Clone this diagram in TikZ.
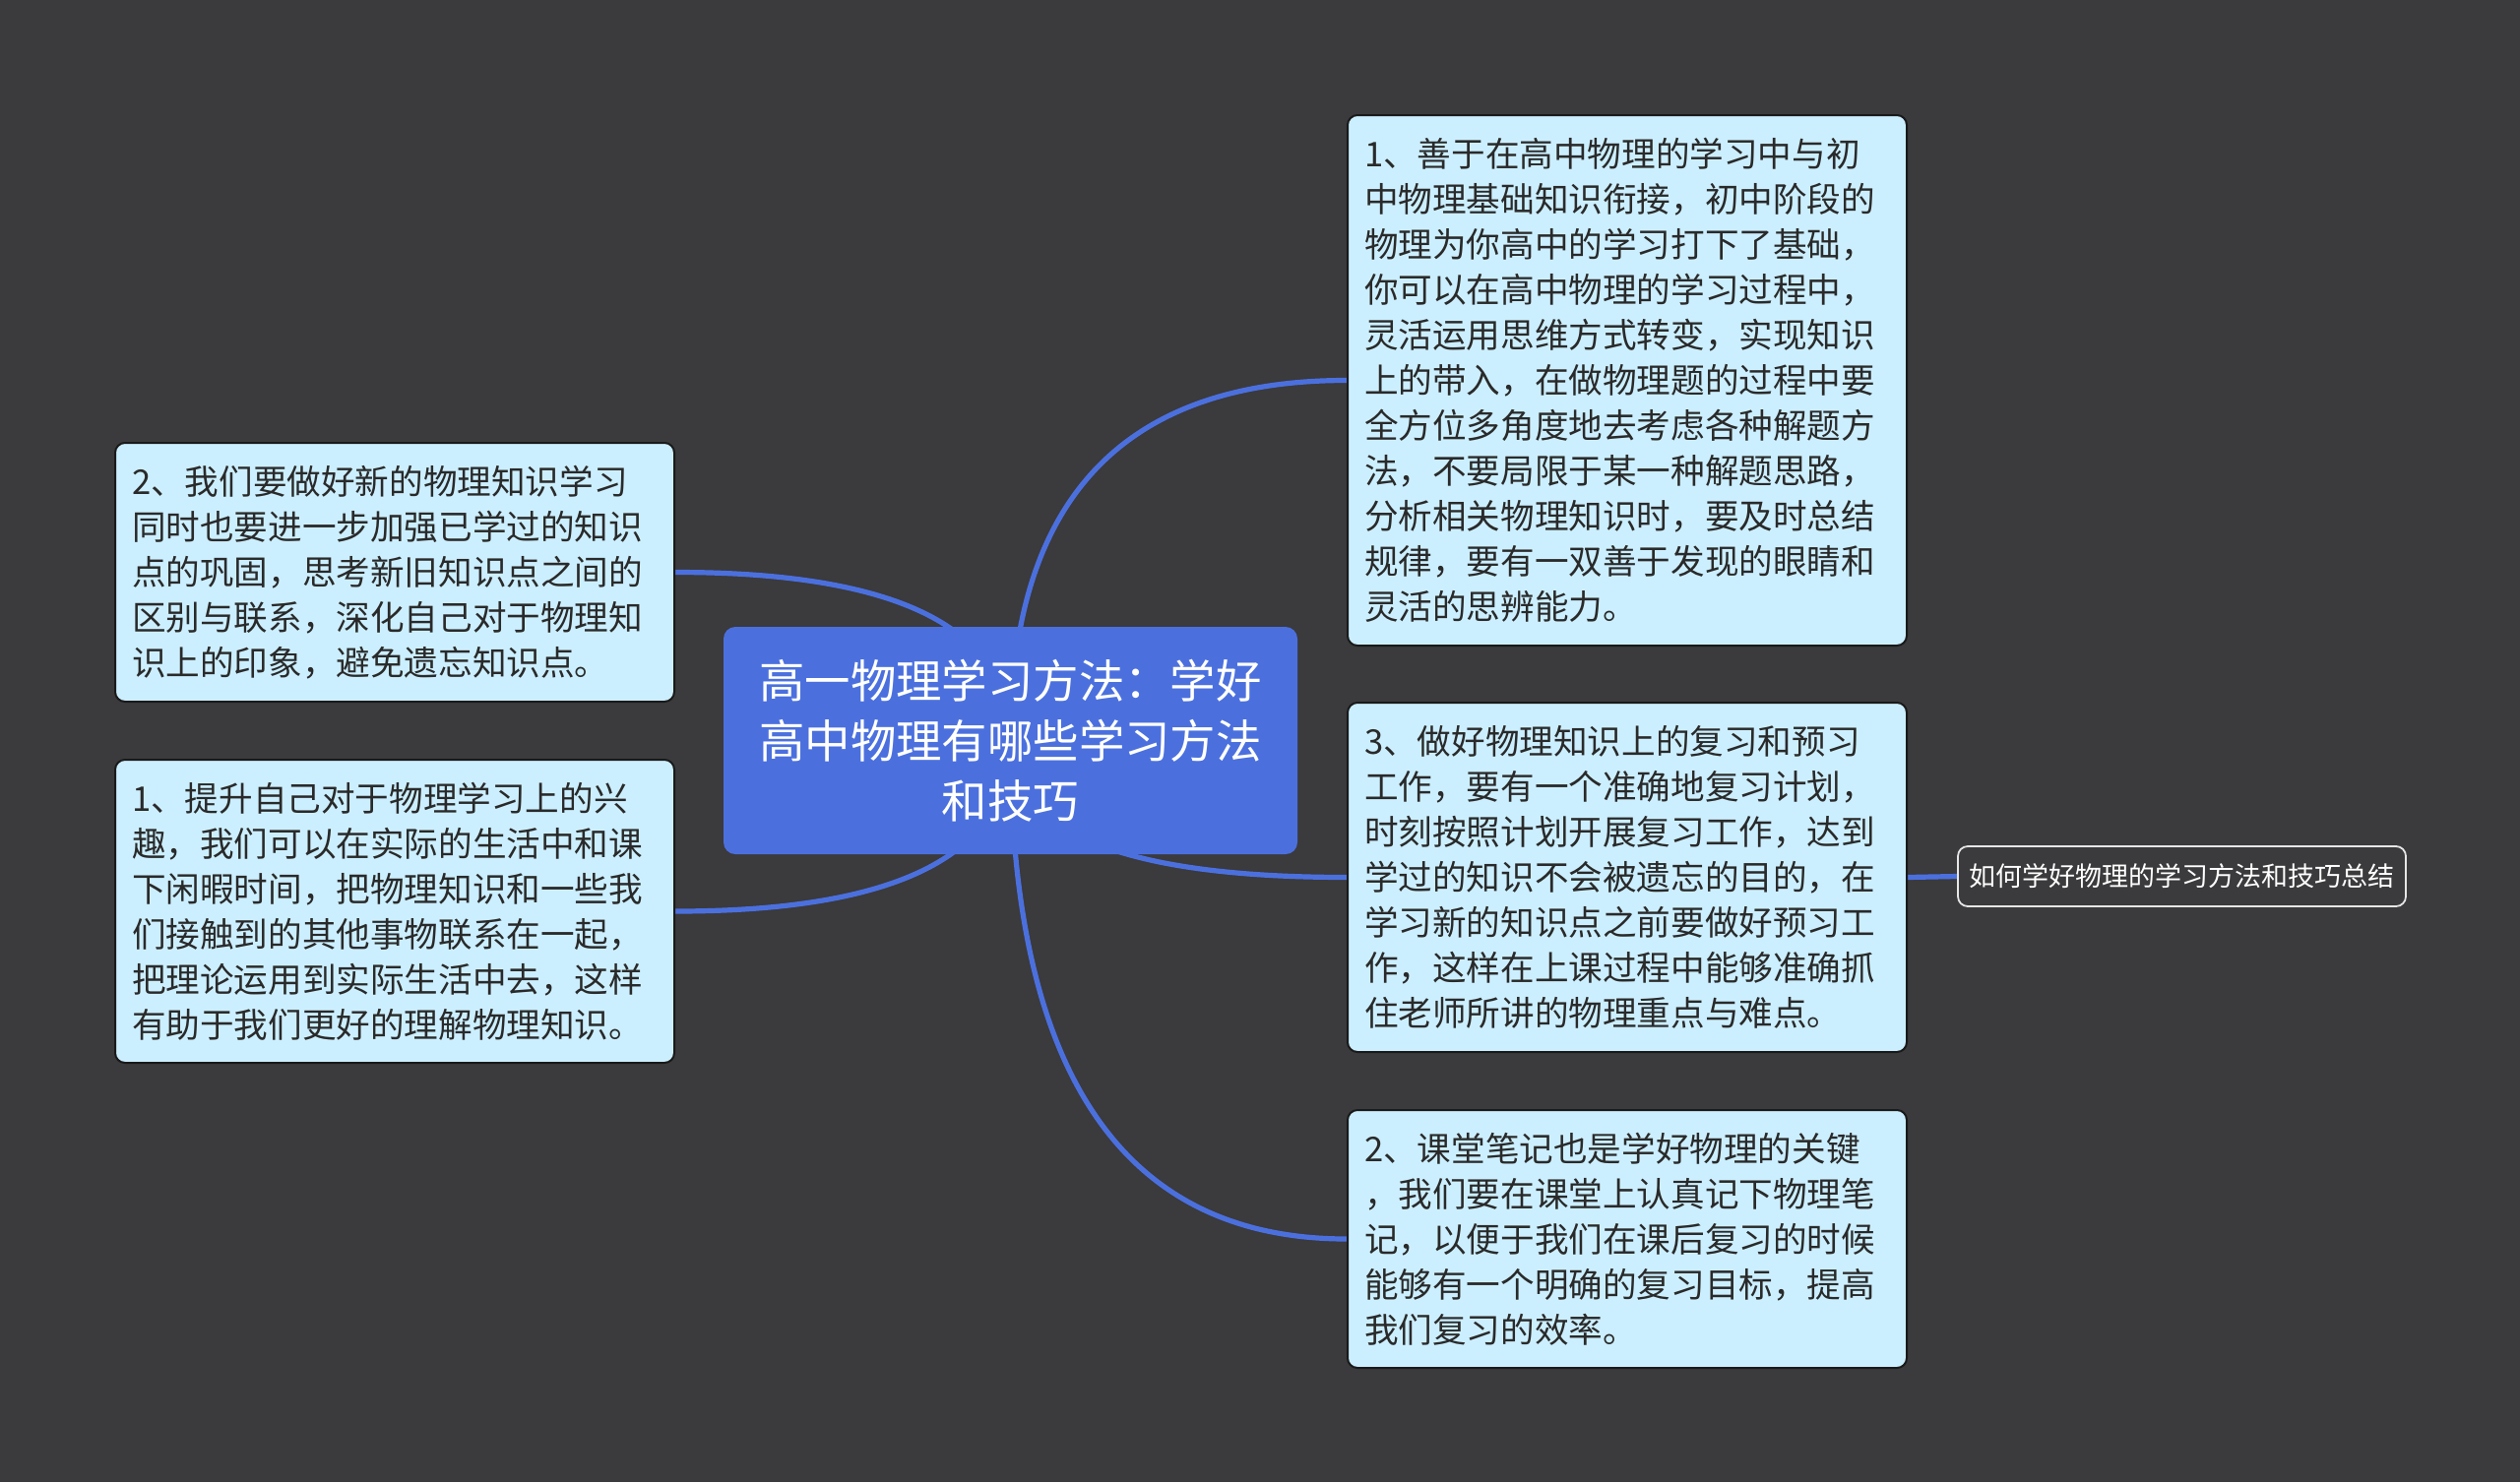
\documentclass[tikz,border=0pt]{standalone}
\usepackage{fontspec}
\setmainfont{Noto Sans CJK SC}
\usetikzlibrary{calc}
\pgfdeclarelayer{back}
\pgfdeclarelayer{lines}
\pgfsetlayers{back,lines,main}
\definecolor{bgc}{HTML}{3B3A3C}
\definecolor{mainblue}{HTML}{4B70DE}
\definecolor{boxfill}{HTML}{CCEFFF}
\definecolor{boxline}{HTML}{1A1A1A}
\definecolor{boxtext}{HTML}{2A2A2A}
\definecolor{smline}{HTML}{E6E6E6}
\tikzset{
  infobox/.style={draw=boxline, line width=1pt, fill=boxfill, rounded corners=5pt,
    text=boxtext, align=left, inner xsep=8.5pt, inner ysep=0pt,
    text width=267pt, minimum width=284pt, anchor=north west,
    font=\fontsize{17.3}{23}\selectfont},
  centerbox/.style={fill=mainblue, rounded corners=6pt, text=white, align=center,
    minimum width=291.5pt, minimum height=115.5pt, inner sep=0pt,
    font=\fontsize{23.2}{30.5}\selectfont},
  smallbox/.style={draw=smline, line width=0.9pt, fill=bgc, rounded corners=5pt,
    text=white, minimum width=227.5pt, minimum height=30.5pt, inner sep=0pt,
    font=\fontsize{13.5}{16}\selectfont},
  conn/.style={draw=mainblue, line width=2.6pt}
}
\begin{document}
\begin{tikzpicture}[x=0.5pt, y=-0.5pt]
\useasboundingbox (0,0) rectangle (2560,1506);
\begin{pgfonlayer}{back}
\fill[bgc] (0,0) rectangle (2560,1506);
\end{pgfonlayer}

\node[centerbox] (c) at (1026.5,752.5) {高一物理学习方法：学好\\高中物理有哪些学习方法\\和技巧};

\node[infobox, minimum height=269.5pt] (tr) at (1368,116) {1、善于在高中物理的学习中与初\\中物理基础知识衔接，初中阶段的\\物理为你高中的学习打下了基础，\\你可以在高中物理的学习过程中，\\灵活运用思维方式转变，实现知识\\上的带入，在做物理题的过程中要\\全方位多角度地去考虑各种解题方\\法，不要局限于某一种解题思路，\\分析相关物理知识时，要及时总结\\规律，要有一双善于发现的眼睛和\\灵活的思辨能力。};

\node[infobox, minimum height=177.5pt] (mr) at (1368,713) {3、做好物理知识上的复习和预习\\工作，要有一个准确地复习计划，\\时刻按照计划开展复习工作，达到\\学过的知识不会被遗忘的目的，在\\学习新的知识点之前要做好预习工\\作，这样在上课过程中能够准确抓\\住老师所讲的物理重点与难点。};

\node[infobox, minimum height=131pt] (br) at (1368,1127) {2、课堂笔记也是学好物理的关键\\，我们要在课堂上认真记下物理笔\\记，以便于我们在课后复习的时候\\能够有一个明确的复习目标，提高\\我们复习的效率。};

\node[infobox, minimum height=131.5pt] (lt) at (116,449) {2、我们要做好新的物理知识学习\\同时也要进一步加强已学过的知识\\点的巩固，思考新旧知识点之间的\\区别与联系，深化自己对于物理知\\识上的印象，避免遗忘知识点。};

\node[infobox, minimum height=154pt] (lb) at (116,771) {1、提升自己对于物理学习上的兴\\趣，我们可以在实际的生活中和课\\下闲暇时间，把物理知识和一些我\\们接触到的其他事物联系在一起，\\把理论运用到实际生活中去，这样\\有助于我们更好的理解物理知识。};

\node[smallbox] (sm) at (2216.5,890.5) {如何学好物理的学习方法和技巧总结};

\coordinate (qtr) at (c.center |- tr.west);
\coordinate (qmr) at (c.center |- mr.west);
\coordinate (qbr) at (c.center |- br.west);
\coordinate (qlt) at (c.center |- lt.east);
\coordinate (qlb) at (c.center |- lb.east);

\begin{pgfonlayer}{lines}
\draw[conn] (c.center) .. controls ($(c.center)!2/3!(qtr)$) and ($(tr.west)!2/3!(qtr)$) .. (tr.west);
\draw[conn] (c.center) .. controls ($(c.center)!2/3!(qmr)$) and ($(mr.west)!2/3!(qmr)$) .. (mr.west);
\draw[conn] (c.center) .. controls ($(c.center)!2/3!(qbr)$) and ($(br.west)!2/3!(qbr)$) .. (br.west);
\draw[conn] (c.center) .. controls ($(c.center)!2/3!(qlt)$) and ($(lt.east)!2/3!(qlt)$) .. (lt.east);
\draw[conn] (c.center) .. controls ($(c.center)!2/3!(qlb)$) and ($(lb.east)!2/3!(qlb)$) .. (lb.east);
\draw[conn] (mr.east) -- (sm.west);
\end{pgfonlayer}
\end{tikzpicture}
\end{document}
